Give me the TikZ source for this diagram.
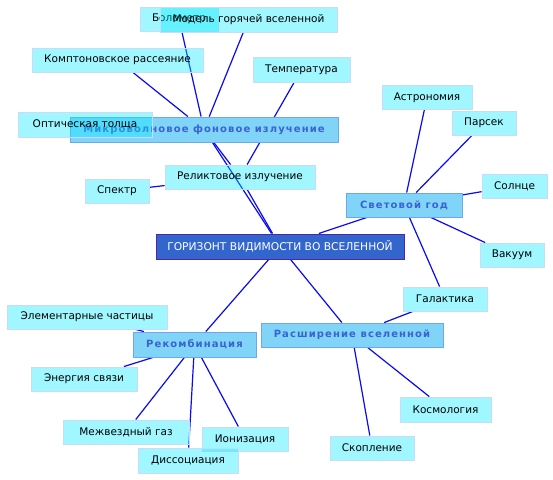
\documentclass[tikz,border=0pt]{standalone}
\usepackage{fontspec}
\setmainfont{DejaVu Sans}
\usetikzlibrary{backgrounds}
\definecolor{leaffill}{RGB}{0,236,255}
\definecolor{leafborder}{RGB}{200,220,245}
\definecolor{catfill}{RGB}{128,212,248}
\definecolor{catborder}{RGB}{110,168,232}
\definecolor{cattext}{RGB}{58,98,208}
\definecolor{hubfill}{RGB}{51,102,204}
\definecolor{hubborder}{RGB}{85,34,170}
\definecolor{edgeblue}{RGB}{10,10,245}
\tikzset{
  box/.style={rectangle, inner sep=0pt, anchor=center, align=center},
  leaf/.style={box, fill=leaffill, fill opacity=0.37, text opacity=1, draw=leafborder, draw opacity=1, line width=0.9pt, font=\fontsize{10.5}{12}\selectfont, text=black},
  cat/.style={box, fill=catfill, draw=catborder, line width=0.9pt, text=cattext, font=\fontsize{10}{12}\selectfont\bfseries\addfontfeature{LetterSpace=11}},
  hub/.style={box, fill=hubfill, draw=hubborder, line width=1pt, text=white, font=\fontsize{10.7}{12}\selectfont},
  link/.style={draw=edgeblue, line width=1.2pt}
}
\begin{document}
\begin{tikzpicture}[x=1pt,y=-1pt]
\useasboundingbox (0,0) rectangle (553,479);
% hub
\node[hub, minimum width=248pt, minimum height=25pt] (hor) at (280,246.5) {ГОРИЗОНТ ВИДИМОСТИ ВО ВСЕЛЕННОЙ};
% categories
\node[cat, minimum width=268pt, minimum height=25pt] (mw) at (204,129.5) {Микроволновое фоновое излучение};
\node[cat, minimum width=116pt, minimum height=24pt] (ly) at (404,205) {Световой год};
\node[cat, minimum width=123pt, minimum height=25pt] (rec) at (194.5,344.5) {Рекомбинация};
\node[cat, minimum width=182pt, minimum height=24pt] (exp) at (352,335) {Расширение вселенной};
% leaves
\node[leaf, minimum width=78pt, minimum height=24pt] (bol) at (179,19) {Болометр};
\node[leaf, minimum width=177pt, minimum height=25pt] (model) at (248.5,19.5) {Модель горячей вселенной};
\node[leaf, minimum width=171pt, minimum height=24pt] (compt) at (117.5,60) {Комптоновское рассеяние};
\node[leaf, minimum width=97pt, minimum height=25pt] (temp) at (301.5,69.5) {Температура};
\node[leaf, minimum width=134pt, minimum height=25pt] (opt) at (85,124.5) {Оптическая толща};
\node[leaf, minimum width=150pt, minimum height=24pt] (relic) at (240,177) {Реликтовое излучение};
\node[leaf, minimum width=64pt, minimum height=24pt] (spec) at (117,191) {Спектр};
\node[leaf, minimum width=90pt, minimum height=24pt] (astr) at (427,97.5) {Астрономия};
\node[leaf, minimum width=64pt, minimum height=24pt] (pars) at (484,123) {Парсек};
\node[leaf, minimum width=65pt, minimum height=24pt] (sun) at (514.5,186) {Солнце};
\node[leaf, minimum width=64pt, minimum height=24pt] (vac) at (512,255) {Вакуум};
\node[leaf, minimum width=160pt, minimum height=24pt] (elem) at (87,317) {Элементарные частицы};
\node[leaf, minimum width=106pt, minimum height=24pt] (energy) at (84,379) {Энергия связи};
\node[leaf, minimum width=126pt, minimum height=24pt] (gas) at (126,432) {Межвездный газ};
\node[leaf, minimum width=86pt, minimum height=24pt] (ion) at (245,439) {Ионизация};
\node[leaf, minimum width=100pt, minimum height=25pt] (diss) at (188,460.5) {Диссоциация};
\node[leaf, minimum width=84pt, minimum height=24pt] (gal) at (445,299) {Галактика};
\node[leaf, minimum width=91pt, minimum height=25pt] (cosm) at (445.5,409.5) {Космология};
\node[leaf, minimum width=84pt, minimum height=24pt] (clust) at (372,448) {Скопление};
% connectors
\begin{scope}[on background layer]
\fill[white] (0,0) rectangle (553,479);
\draw[link] (mw) -- (bol);
\draw[link] (mw) -- (model);
\draw[link] (mw) -- (compt);
\draw[link] (mw) -- (hor);
\draw[link] (mw) -- (relic);
\draw[link] (relic) -- (hor);
\draw[link] (relic) -- (temp);
\draw[link] (relic) -- (spec);
\draw[link] (ly) -- (hor);
\draw[link] (ly) -- (astr);
\draw[link] (ly) -- (pars);
\draw[link] (ly) -- (sun);
\draw[link] (ly) -- (vac);
\draw[link] (ly) -- (gal);
\draw[link] (exp) -- (hor);
\draw[link] (exp) -- (gal);
\draw[link] (exp) -- (cosm);
\draw[link] (exp) -- (clust);
\draw[link] (rec) -- (hor);
\draw[link] (rec) -- (elem);
\draw[link] (rec) -- (energy);
\draw[link] (rec) -- (gas);
\draw[link] (rec) -- (diss);
\draw[link] (rec) -- (ion);
\end{scope}
\end{tikzpicture}
\end{document}
